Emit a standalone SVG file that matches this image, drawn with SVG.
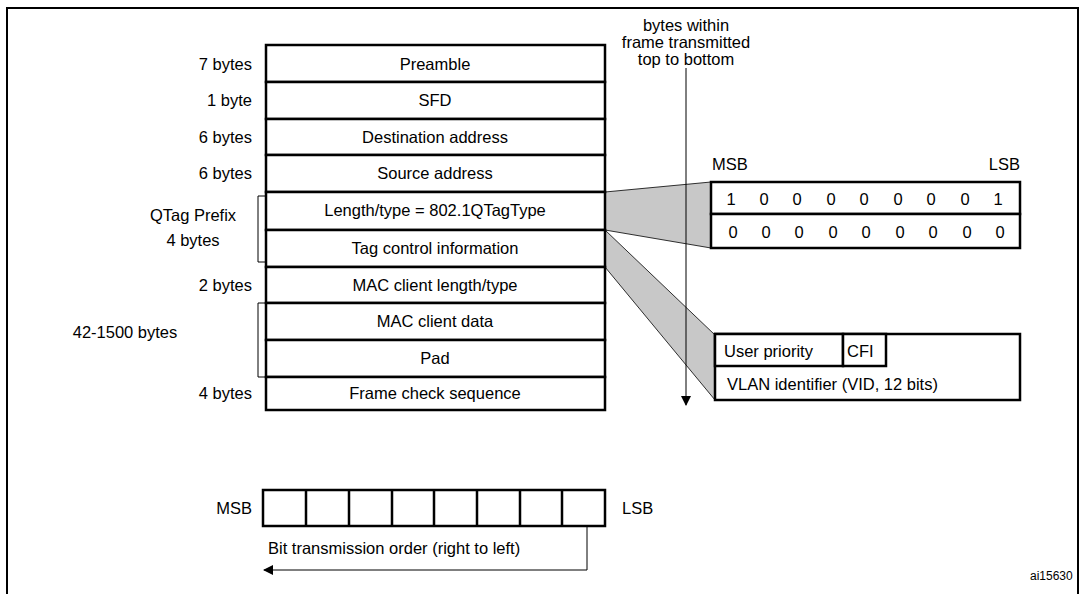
<svg xmlns="http://www.w3.org/2000/svg" width="1087" height="594" viewBox="0 0 1087 594">
<style>
text{font-family:"Liberation Sans",Arial,sans-serif;font-size:16.5px;fill:#000}
.c{text-anchor:middle}.r{text-anchor:end}
.b{fill:#fff;stroke:#000;stroke-width:2.5}
.t{fill:none;stroke:#000;stroke-width:1}
.g{fill:#c8c8c8;stroke:#000;stroke-width:0.8}
</style>
<defs><marker id="a" markerWidth="10" markerHeight="10" refX="9" refY="5" orient="auto" markerUnits="userSpaceOnUse"><path d="M0,0 L10,5 L0,10 Z" fill="#000"/></marker></defs>
<rect x="7" y="8" width="1071" height="600" fill="#fff" stroke="#000" stroke-width="2"/>
<g id="connectors">
<polygon class="g" points="605,192 711,182 711,248 605,230"/>
<polygon class="g" points="605,230 715,335 715,400 605,267"/>
<line class="t" x1="686" y1="68" x2="686" y2="405" marker-end="url(#a)"/>
<path class="t" d="M266,196 H258 V262 H266"/>
<path class="t" d="M266,303 H258 V377 H266"/>
<path class="t" d="M587,526 V570 H264" marker-end="url(#a)"/>
</g>
<g id="frame">
<rect class="b" x="266" y="45" width="339" height="37"/><text class="c" x="435" y="70">Preamble</text>
<rect class="b" x="266" y="82" width="339" height="37"/><text class="c" x="435" y="106">SFD</text>
<rect class="b" x="266" y="119" width="339" height="36"/><text class="c" x="435" y="143">Destination address</text>
<rect class="b" x="266" y="155" width="339" height="37"/><text class="c" x="435" y="179">Source address</text>
<rect class="b" x="266" y="192" width="339" height="38"/><text class="c" x="435" y="216">Length/type = 802.1QTagType</text>
<rect class="b" x="266" y="230" width="339" height="37"/><text class="c" x="435" y="254">Tag control information</text>
<rect class="b" x="266" y="267" width="339" height="36"/><text class="c" x="435" y="291">MAC client length/type</text>
<rect class="b" x="266" y="303" width="339" height="37"/><text class="c" x="435" y="327">MAC client data</text>
<rect class="b" x="266" y="340" width="339" height="37"/><text class="c" x="435" y="364">Pad</text>
<rect class="b" x="266" y="377" width="339" height="33"/><text class="c" x="435" y="399">Frame check sequence</text>
</g>
<g id="labels">
<text class="r" x="252" y="70">7 bytes</text>
<text class="r" x="252" y="106">1 byte</text>
<text class="r" x="252" y="143">6 bytes</text>
<text class="r" x="252" y="179">6 bytes</text>
<text class="c" x="193" y="221">QTag Prefix</text>
<text class="c" x="193" y="246">4 bytes</text>
<text class="r" x="252" y="291">2 bytes</text>
<text class="c" x="125" y="338">42-1500 bytes</text>
<text class="r" x="252" y="399">4 bytes</text>
<text class="c" x="686" y="31">bytes within</text>
<text class="c" x="686" y="48">frame transmitted</text>
<text class="c" x="686" y="65">top to bottom</text>
</g>
<g id="qtag">
<text x="712" y="170">MSB</text><text class="r" x="1020" y="170">LSB</text>
<rect class="b" x="711" y="182" width="309" height="32"/>
<rect class="b" x="711" y="214" width="309" height="34"/>
<g class="c">
<text x="731" y="205">1</text><text x="764" y="205">0</text><text x="797" y="205">0</text><text x="831" y="205">0</text><text x="864" y="205">0</text><text x="898" y="205">0</text><text x="931" y="205">0</text><text x="965" y="205">0</text><text x="998" y="205">1</text>
<text x="733" y="238">0</text><text x="766" y="238">0</text><text x="799" y="238">0</text><text x="833" y="238">0</text><text x="866" y="238">0</text><text x="900" y="238">0</text><text x="933" y="238">0</text><text x="967" y="238">0</text><text x="1000" y="238">0</text>
</g>
</g>
<g id="tci">
<rect class="b" x="715" y="334" width="305" height="66"/>
<rect class="b" x="715" y="334" width="128" height="32"/>
<rect class="b" x="843" y="334" width="43" height="32"/>
<text x="724" y="357">User priority</text>
<text x="847" y="357">CFI</text>
<text x="727" y="390">VLAN identifier (VID, 12 bits)</text>
</g>
<g id="bits">
<rect class="b" x="263" y="490" width="342" height="36"/>
<path d="M306,490V526M349,490V526M392,490V526M434,490V526M477,490V526M520,490V526M562,490V526" stroke="#000" stroke-width="2.5"/>
<text class="r" x="252" y="514">MSB</text>
<text x="622" y="514">LSB</text>
<text x="268" y="554">Bit transmission order (right to left)</text>
</g>
<text x="1030" y="580" style="font-size:12px">ai15630</text>
</svg>
